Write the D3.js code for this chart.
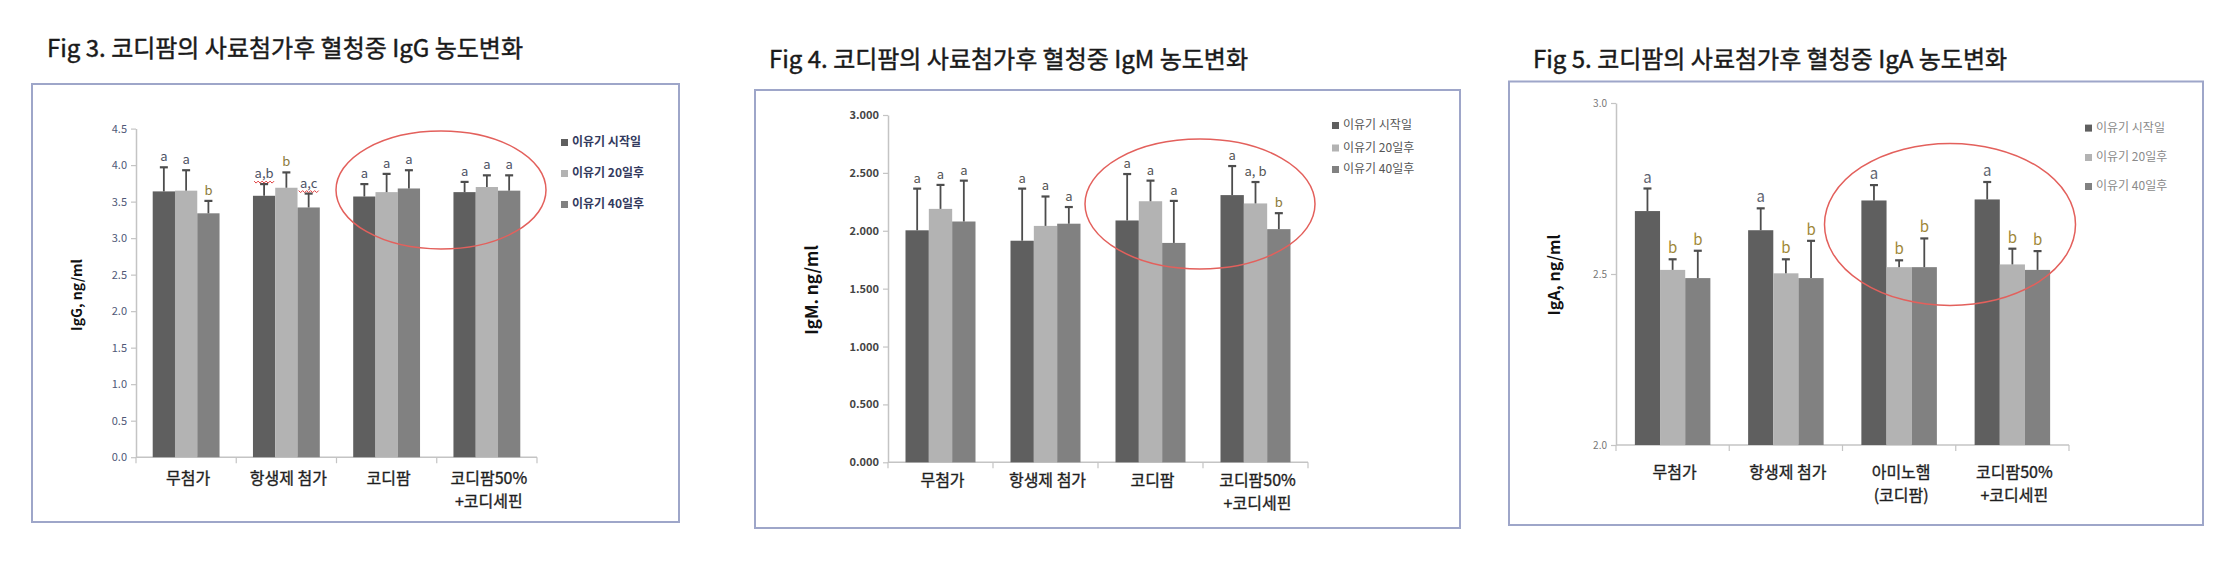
<!DOCTYPE html>
<html>
<head>
<meta charset="utf-8">
<script src="https://cdn.jsdelivr.net/npm/d3@7"></script>
<style>
  body { margin: 0; background: #fff; }
  text { font-family: "Noto Sans CJK KR", "Noto Sans", sans-serif; }
</style>
</head>
<body>
<div id="chart"></div>
<script>
// categories and series
const groups = ["무첨가", "항생제 첨가", "코디팜", "코디팜50%\n+코디세핀"];
const groupsIgA = ["무첨가", "항생제 첨가", "아미노햄\n(코디팜)", "코디팜50%\n+코디세핀"];
const series = ["이유기 시작일", "이유기 20일후", "이유기 40일후"];

// IgG (Fig 3): means, error (SD) and letters, per group x series
const iggMean = [[3.64, 3.65, 3.34], [3.58, 3.69, 3.42], [3.57, 3.63, 3.68], [3.63, 3.70, 3.65]];
const iggErr = [[0.33, 0.28, 0.17], [0.16, 0.21, 0.19], [0.17, 0.25, 0.25], [0.14, 0.16, 0.21]];
const iggSig = [["a", "a", "b"], ["a,b", "b", "a,c"], ["a", "a", "a"], ["a", "a", "a"]];
const iggTicks = [0, 0.5, 1, 1.5, 2, 2.5, 3, 3.5, 4, 4.5];

// IgM (Fig 4)
const igmMean = [[2.004, 2.189, 2.080], [1.914, 2.042, 2.061], [2.089, 2.255, 1.895], [2.308, 2.236, 2.014]];
const igmErr = [[0.360, 0.207, 0.353], [0.450, 0.254, 0.144], [0.401, 0.178, 0.363], [0.251, 0.185, 0.138]];
const igmSig = [["a", "a", "a"], ["a", "a", "a"], ["a", "a", "a"], ["a", "a, b", "b"]];
const igmTicks = [0, 0.5, 1, 1.5, 2, 2.5, 3];

// IgA (Fig 5)
const igaMean = [[2.684, 2.512, 2.488], [2.628, 2.502, 2.488], [2.715, 2.520, 2.520], [2.718, 2.528, 2.512]];
const igaErr = [[0.066, 0.031, 0.080], [0.064, 0.041, 0.109], [0.045, 0.020, 0.084], [0.051, 0.046, 0.055]];
const igaSig = [["a", "b", "b"], ["a", "b", "b"], ["a", "b", "b"], ["a", "b", "b"]];
const igaTicks = [2, 2.5, 3];

const barColors = ["#5f5f5f", "#b3b3b3", "#818181"];

const svg = d3.select("#chart")
  .append("svg")
  .attr("width", 2230)
  .attr("height", 566);

svg.append("rect").attr("width", 2230).attr("height", 566).attr("fill", "#fff");

function drawPanel(c) {
  const g = svg.append("g");

  // frame
  g.append("rect")
    .attr("x", c.frame[0]).attr("y", c.frame[1])
    .attr("width", c.frame[2] - c.frame[0]).attr("height", c.frame[3] - c.frame[1])
    .attr("fill", "none").attr("stroke", "#9ea6c9").attr("stroke-width", 2);

  // title (regular weight thickened a little -> medium look)
  g.append("text")
    .attr("x", c.title[0]).attr("y", c.title[1])
    .attr("dominant-baseline", "middle")
    .attr("font-size", c.titleSize)
    .attr("fill", "#1a1a1a")
    .attr("stroke", "#1a1a1a").attr("stroke-width", 0.45)
    .text(c.titleText);

  const x = d3.scaleBand().domain(c.cats).range([c.x0, c.x1]).padding(0);
  const xs = d3.scaleBand().domain(series).range([0, x.bandwidth()])
    .paddingInner(0).paddingOuter(0.75);
  const y = d3.scaleLinear().domain(c.domain).range([c.yBottom, c.yTop]);

  // y axis
  const yAxis = g.append("g")
    .attr("transform", "translate(" + c.x0 + ",0)")
    .call(d3.axisLeft(y).tickValues(c.ticks).tickFormat(d3.format(c.fmt)).tickSize(5).tickSizeOuter(0));
  yAxis.select(".domain").attr("stroke", "#c4c4c4").attr("stroke-width", 1.5);
  yAxis.selectAll(".tick line").attr("stroke", "#c4c4c4").attr("stroke-width", 1.2);
  yAxis.selectAll(".tick text")
    .attr("font-size", c.tickSize)
    .attr("font-weight", c.tickWeight)
    .attr("fill", c.tickColor)
    .attr("x", -9);

  // x axis with ticks at category boundaries
  const xa = g.append("g").attr("transform", "translate(0," + c.yBottom + ")");
  xa.append("line")
    .attr("x1", c.x0).attr("x2", c.x1)
    .attr("stroke", "#c4c4c4").attr("stroke-width", 1.5);
  xa.selectAll(".bt")
    .data(c.cats)
    .enter()
    .append("line")
    .attr("x1", d => x(d) + x.bandwidth()).attr("x2", d => x(d) + x.bandwidth())
    .attr("y1", 0).attr("y2", 6)
    .attr("stroke", "#c4c4c4").attr("stroke-width", 1.2);
  xa.append("line").attr("x1", c.x0).attr("x2", c.x0).attr("y1", 0).attr("y2", 6)
    .attr("stroke", "#c4c4c4").attr("stroke-width", 1.2);

  // category labels, one text per line
  c.cats.forEach(function (cat) {
    const lines = cat.split("\n");
    lines.forEach(function (l, i) {
      g.append("text")
        .attr("x", x(cat) + x.bandwidth() / 2 + 2)
        .attr("y", c.labelY + i * c.lineGap)
        .attr("text-anchor", "middle")
        .attr("dominant-baseline", "middle")
        .attr("font-size", 16)
        .attr("fill", "#1e1e1e")
        .attr("stroke", "#1e1e1e").attr("stroke-width", 0.35)
        .text(l);
    });
  });

  // flatten rows
  const rows = [];
  c.cats.forEach(function (cat, i) {
    series.forEach(function (s, j) {
      rows.push({ cat: cat, s: s, j: j, v: c.mean[i][j], e: c.err[i][j], sig: c.sig[i][j] });
    });
  });

  const bars = g.append("g");
  bars.selectAll("rect")
    .data(rows)
    .enter()
    .append("rect")
    .attr("x", d => x(d.cat) + xs(d.s))
    .attr("y", d => y(d.v))
    .attr("width", xs.bandwidth())
    .attr("height", d => c.yBottom - y(d.v))
    .attr("fill", d => barColors[d.j]);

  // error bars
  const eb = g.append("g").attr("stroke", "#4d4d4d").attr("stroke-width", 1.8);
  rows.forEach(function (d) {
    const cx = x(d.cat) + xs(d.s) + xs.bandwidth() / 2;
    eb.append("line").attr("x1", cx).attr("x2", cx).attr("y1", y(d.v)).attr("y2", y(d.v + d.e));
    eb.append("line").attr("x1", cx - 4).attr("x2", cx + 4).attr("y1", y(d.v + d.e)).attr("y2", y(d.v + d.e))
      .attr("stroke-width", 2.2);
  });

  // significance letters
  rows.forEach(function (d) {
    const cx = x(d.cat) + xs(d.s) + xs.bandwidth() / 2;
    const ty = y(d.v + d.e) - 6;
    g.append("text")
      .attr("x", cx).attr("y", ty)
      .attr("text-anchor", "middle")
      .attr("font-size", c.sigSize)
      .attr("fill", d.sig.indexOf("b") >= 0 && d.sig.length === 1 ? c.bColor : c.aColor)
      .text(d.sig);
    if (c.wavy && d.sig.indexOf(",") >= 0) {
      // spell-check squiggle under "a,b" / "a,c"
      let p = "M" + (cx - 10) + "," + (ty + 3);
      for (let k = 0; k < 10; k++) {
        p += " l2," + (k % 2 === 0 ? 2 : -2);
      }
      g.append("path").attr("d", p).attr("fill", "none")
        .attr("stroke", "#e04040").attr("stroke-width", 1);
    }
  });

  // legend
  series.forEach(function (s, j) {
    g.append("rect")
      .attr("x", c.legX).attr("y", c.legY[j] - 4)
      .attr("width", 7).attr("height", 7)
      .attr("fill", barColors[j]);
    g.append("text")
      .attr("x", c.legX + 11).attr("y", c.legY[j])
      .attr("dominant-baseline", "middle")
      .attr("font-size", c.legSize)
      .attr("font-weight", c.legWeight)
      .attr("fill", c.legColor)
      .text(s);
  });

  // y axis title
  g.append("text")
    .attr("transform", "translate(" + c.ylab[0] + "," + c.ylab[1] + ") rotate(-90)")
    .attr("text-anchor", "middle")
    .attr("dominant-baseline", "middle")
    .attr("font-size", c.ylabSize)
    .attr("font-weight", "bold")
    .attr("fill", "#111")
    .text(c.ylabText);

  // red ellipse highlight
  g.append("ellipse")
    .attr("cx", c.ell[0]).attr("cy", c.ell[1])
    .attr("rx", c.ell[2]).attr("ry", c.ell[3])
    .attr("fill", "none").attr("stroke", "#e3605c").attr("stroke-width", 1.5);
}

drawPanel({
  frame: [32, 84, 679, 522],
  title: [47, 50], titleSize: 24, titleText: "Fig 3. 코디팜의 사료첨가후 혈청중 IgG 농도변화",
  cats: groups, x0: 136, x1: 537, domain: [0, 4.5], yTop: 128.6, yBottom: 457.2,
  ticks: iggTicks, fmt: ".1f", tickSize: 11, tickWeight: "normal", tickColor: "#4f5877",
  mean: iggMean, err: iggErr, sig: iggSig, sigSize: 13, aColor: "#4e5366", bColor: "#8c7a3a", wavy: true,
  labelY: 480, lineGap: 23,
  legX: 561, legY: [143, 174, 205], legSize: 12, legWeight: "bold", legColor: "#333a5e",
  ylab: [78, 295], ylabSize: 14, ylabText: "IgG, ng/ml",
  ell: [441, 190, 105, 59]
});

drawPanel({
  frame: [755, 90, 1460, 528],
  title: [769, 61], titleSize: 24, titleText: "Fig 4. 코디팜의 사료첨가후 혈청중 IgM 농도변화",
  cats: groups, x0: 888, x1: 1308, domain: [0, 3], yTop: 115, yBottom: 462.3,
  ticks: igmTicks, fmt: ".3f", tickSize: 11, tickWeight: "bold", tickColor: "#444",
  mean: igmMean, err: igmErr, sig: igmSig, sigSize: 13, aColor: "#555", bColor: "#8c7a3a", wavy: false,
  labelY: 482, lineGap: 23,
  legX: 1332, legY: [126, 148.5, 170], legSize: 12, legWeight: "normal", legColor: "#555",
  ylab: [813, 290], ylabSize: 17, ylabText: "IgM. ng/ml",
  ell: [1200, 204, 115, 65]
});

drawPanel({
  frame: [1509, 81.5, 2203, 525],
  title: [1533, 61], titleSize: 24, titleText: "Fig 5. 코디팜의 사료첨가후 혈청중 IgA 농도변화",
  cats: groupsIgA, x0: 1616, x1: 2069, domain: [2, 3], yTop: 103, yBottom: 445,
  ticks: igaTicks, fmt: ".1f", tickSize: 10, tickWeight: "normal", tickColor: "#777",
  mean: igaMean, err: igaErr, sig: igaSig, sigSize: 15, aColor: "#606470", bColor: "#a08838", wavy: false,
  labelY: 474, lineGap: 23,
  legX: 2085, legY: [128.6, 158, 187], legSize: 12, legWeight: "normal", legColor: "#8a8a8a",
  ylab: [1556, 275], ylabSize: 16, ylabText: "IgA, ng/ml",
  ell: [1950, 224.5, 125.5, 81]
});
</script>
</body>
</html>
